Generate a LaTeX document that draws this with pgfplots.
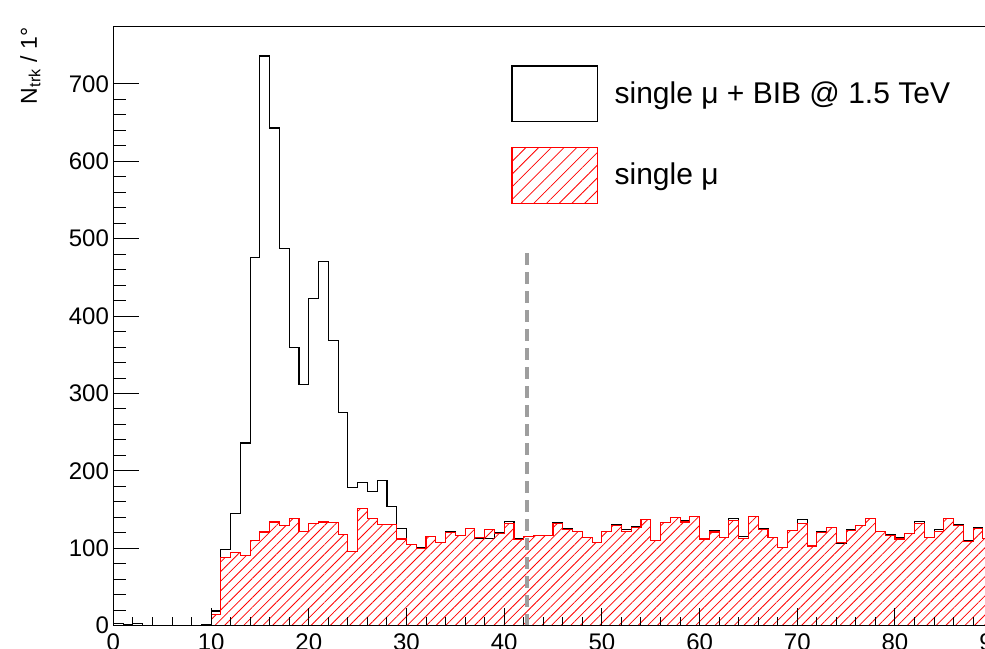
\documentclass[border=0pt]{standalone}
\usepackage{fontspec}
\setmainfont{Liberation Sans}
\usepackage{pgfplots}
\usepackage{pgfplotstable}
\pgfplotsset{compat=1.18}
\usetikzlibrary{patterns.meta}

\pgfplotstableread{
x red black
0 0 3
1 0 1
2 0 3
3 0 0
4 0 0
5 0 0
6 0 0
7 0 0
8 0 0
9 0 2
10 15 19
11 88 98
12 94 145
13 91 236
14 110 476
15 121 736
16 134 643
17 129 487
18 138 359
19 122 312
20 132 423
21 134 470
22 133 369
23 118 275
24 96 179
25 151 185
26 139 173
27 131 188
28 131 154
29 112 126
30 105 105
31 100 101
32 115 115
33 108 108
34 120 122
35 116 116
36 126 126
37 114 113
38 124 113
39 119 120
40 132 135
41 111 113
42 115 115
43 116 116
44 116 116
45 132 133
46 124 126
47 122 122
48 114 114
49 108 108
50 122 122
51 130 131
52 122 124
53 127 128
54 137 137
55 110 110
56 133 133
57 140 140
58 134 136
59 141 141
60 112 112
61 121 123
62 114 114
63 136 138
64 113 115
65 141 141
66 124 126
67 114 114
68 101 101
69 123 123
70 132 137
71 103 102
72 120 121
73 127 127
74 108 106
75 123 124
76 129 130
77 139 139
78 122 122
79 116 118
80 112 114
81 119 119
82 132 135
83 114 114
84 122 124
85 139 139
86 129 131
87 109 110
88 126 127
89 113 113
90 113 113
}\histdata

\pgfplotsset{
  rootaxis/.style={
    scale only axis,
    width=439.65pt, height=299.35pt,
    xmin=0, xmax=90, ymin=0, ymax=773.5,
    tick pos=left,
    tick align=inside,
    axis line style={black, line width=0.5pt},
    every tick/.style={black, line width=0.5pt},
    /pgf/number format/assume math mode=true,
    tick label style={font=\fontsize{12}{14}\selectfont},
  }
}

\begin{document}
\begin{tikzpicture}
\begin{axis}[
  rootaxis,
  axis on top,
  xtick={0,10,...,90},
  minor x tick num=4,
  ytick={0,100,...,700},
  minor y tick num=4,
  major tick length=9pt,
  minor tick length=4.5pt,
  xticklabel style={yshift=-0.6pt},
  yticklabel style={xshift=1.3pt},
  ylabel={N\textsubscript{trk} / 1°},
  ylabel style={at={(axis description cs:-0.0944,1)}, anchor=east, inner sep=0pt,
    font=\fontsize{11.5}{14}\selectfont},
  legend style={draw=none, fill=none, at={(0.4522,0.9365)}, anchor=north west,
    inner sep=0pt, row sep=12.45pt,
    nodes={inner sep=0pt, anchor=west},
    font=\fontsize{15}{18}\selectfont,
    /tikz/every odd column/.append style={column sep=8.15pt}},
  legend cell align=left,
]
\addplot[const plot, black, line width=0.55pt,
  legend image code/.code={\draw[black, line width=0.6pt] (0pt,-13.9pt) rectangle (42.85pt,13.9pt);}]
  table[x=x,y=black]{\histdata};
\addlegendentry{single μ + BIB @ 1.5 TeV}
\addplot[const plot, red, line width=0.55pt,
  pattern={Lines[angle=45,distance=3.4pt,line width=0.4pt]}, pattern color=red,
  legend image code/.code={\draw[red, line width=0.6pt, pattern={Lines[angle=45,distance=4.5pt,line width=0.4pt]}, pattern color=red] (0pt,-13.9pt) rectangle (42.85pt,13.9pt);}]
  table[x=x,y=red]{\histdata} \closedcycle;
\addlegendentry{single μ}
\addplot[color={rgb,1:red,0.62;green,0.62;blue,0.62}, line width=2pt, dash pattern=on 6pt off 3.5pt, forget plot]
  coordinates {(42.3,0) (42.3,485)};
\end{axis}
\begin{axis}[
  rootaxis,
  xtick=\empty,
  ytick={0,100,...,700},
  minor y tick num=4,
  yticklabels={},
  major tick length=13pt,
  minor tick length=6.5pt,
]
\end{axis}
\pgfresetboundingbox
\path[use as bounding box] (-56.7pt,-11.15pt) rectangle (435.8pt,312.85pt);
\end{tikzpicture}
\end{document}
